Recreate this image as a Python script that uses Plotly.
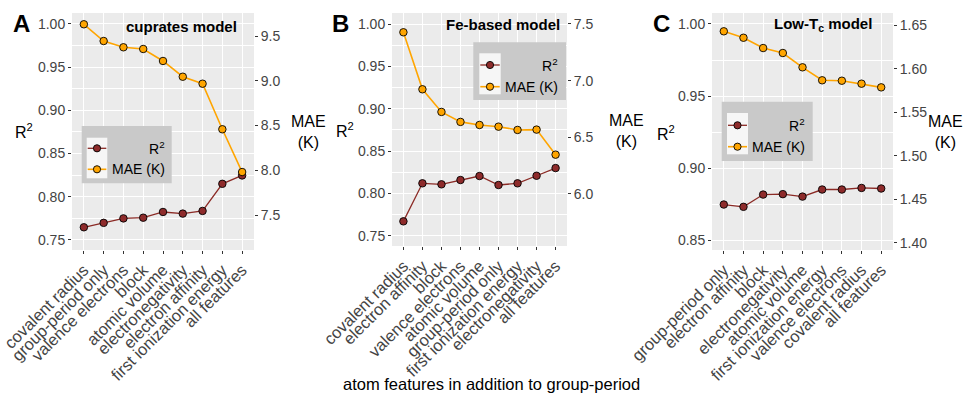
import plotly.graph_objects as go

# ---------------- data ----------------
cats_a = ["covalent radius", "group-period only", "valence electrons", "block",
          "atomic volume", "electronegativity", "electron affinity",
          "first ionization energy", "all features"]
r2_a = [0.7647, 0.7698, 0.7750, 0.7758, 0.7824, 0.7805, 0.7836, 0.8150, 0.8247]
mae_a = [9.631, 9.444, 9.374, 9.355, 9.221, 9.045, 8.967, 8.458, 7.980]

cats_b = ["covalent radius", "electron affinity", "block", "valence electrons",
          "atomic volume", "group-period only", "first ionization energy",
          "electronegativity", "all features"]
r2_b = [0.7671, 0.8120, 0.8108, 0.8159, 0.8206, 0.8100, 0.8120, 0.8209, 0.8300]
mae_b = [7.427, 6.924, 6.724, 6.636, 6.609, 6.594, 6.565, 6.568, 6.347]

cats_c = ["group-period only", "electron affinity", "block", "electronegativity",
          "atomic volume", "first ionization energy", "valence electrons",
          "covalent radius", "all features"]
r2_c = [0.8749, 0.8733, 0.8818, 0.8821, 0.8804, 0.8853, 0.8853, 0.8864, 0.8860]
mae_c = [1.6428, 1.6354, 1.6236, 1.6179, 1.6015, 1.5866, 1.5861, 1.5827, 1.5785]

titles = ["cuprates model", "Fe-based model", "Low-T<sub>c</sub> model"]
panel_letters = ["A", "B", "C"]
r2_ticks = [[0.75, 0.80, 0.85, 0.90, 0.95, 1.00],
            [0.75, 0.80, 0.85, 0.90, 0.95, 1.00],
            [0.85, 0.90, 0.95, 1.00]]
mae_ticks = [[7.5, 8.0, 8.5, 9.0, 9.5],
             [6.0, 6.5, 7.0, 7.5],
             [1.40, 1.45, 1.50, 1.55, 1.60, 1.65]]
x_title = "atom features in addition to group-period"

# ---------------- layout helpers ----------------
W, H = 964, 395
FONT = "Liberation Sans, Arial, sans-serif"


def px(x):
    return x / W


def py(y):
    return 1 - y / H


# panel geometry in pixels: (left, right, top, bottom)
panels = [(72, 254, 13, 250), (392, 567, 13, 246), (712, 893, 13, 250)]
r2_ranges = [[0.7384, 1.0127], [0.7380, 1.0130], [0.8434, 1.0076]]
mae_ranges = [[7.109, 9.757], [5.541, 7.597], [1.3919, 1.6638]]
r2_fmt = [".2f", ".2f", ".2f"]
mae_fmt = [".1f", ".1f", ".2f"]

R2_COL = "#8B2A25"
R2_FILL = "#8E2B2B"
MAE_COL = "#FFA500"
TICK_COL = "#333333"
LAB_COL = "#444444"

fig = go.Figure()
layout = dict(
    width=W, height=H, margin=dict(l=0, r=0, t=0, b=0),
    paper_bgcolor="white", plot_bgcolor="#EBEBEB",
    showlegend=False, font=dict(family=FONT, color="black"),
)

cats_all = [cats_a, cats_b, cats_c]
r2_all = [r2_a, r2_b, r2_c]
mae_all = [mae_a, mae_b, mae_c]

for i in range(3):
    L, R, T, B = panels[i]
    xa = "x" if i == 0 else f"x{i + 1}"
    yl = f"y{2 * i + 1}" if i > 0 else "y"
    yr = f"y{2 * i + 2}"
    xkey = "xaxis" if i == 0 else f"xaxis{i + 1}"
    ylkey = "yaxis" if i == 0 else f"yaxis{2 * i + 1}"
    yrkey = f"yaxis{2 * i + 2}"

    fig.add_trace(go.Scatter(
        x=cats_all[i], y=r2_all[i], xaxis=xa, yaxis=yl, mode="lines+markers",
        name="R²", line=dict(color=R2_COL, width=1.3),
        marker=dict(size=7.5, color=R2_FILL, line=dict(color="black", width=0.9)),
        cliponaxis=False))
    fig.add_trace(go.Scatter(
        x=cats_all[i], y=mae_all[i], xaxis=xa, yaxis=yr, mode="lines+markers",
        name="MAE (K)", line=dict(color=MAE_COL, width=1.6),
        marker=dict(size=7.5, color=MAE_COL, line=dict(color="black", width=0.9)),
        cliponaxis=False))

    layout[xkey] = dict(
        domain=[px(L), px(R)], anchor=yl, type="category",
        categoryorder="array", categoryarray=cats_all[i],
        range=[-0.6, 8.6], tickangle=-45,
        tickmode="linear", tick0=0, dtick=1,
        tickfont=dict(size=16.5, color=LAB_COL, family=FONT),
        ticks="outside", ticklen=3, tickwidth=1, tickcolor=TICK_COL,
        showgrid=True, gridcolor="white", gridwidth=1.1,
        zeroline=False, showline=False, automargin=False, fixedrange=True)
    layout[ylkey] = dict(
        domain=[py(B), py(T)], anchor=xa, range=r2_ranges[i],
        tickmode="array", tickvals=r2_ticks[i], tickformat=r2_fmt[i],
        tickfont=dict(size=14, color=LAB_COL, family=FONT),
        ticks="outside", ticklen=3, tickwidth=1, tickcolor=TICK_COL,
        showgrid=True, gridcolor="white", gridwidth=1.1,
        minor=dict(dtick=0.025, tick0=0, showgrid=True, gridcolor="white",
                   gridwidth=0.5, ticks=""),
        zeroline=False, showline=False, automargin=False, fixedrange=True)
    layout[yrkey] = dict(
        domain=[py(B), py(T)], anchor=xa, overlaying=yl, side="right",
        range=mae_ranges[i],
        tickmode="array", tickvals=mae_ticks[i], tickformat=mae_fmt[i],
        tickfont=dict(size=14, color=LAB_COL, family=FONT),
        ticks="outside", ticklen=3, tickwidth=1, tickcolor=TICK_COL,
        showgrid=False, zeroline=False, showline=False,
        automargin=False, fixedrange=True)

fig.update_layout(**layout)

annotations = []
shapes = []

# panel letters, in-panel titles, axis titles
letter_pos = [(21.5, 23.5), (340, 24), (661.5, 24)]
title_pos = [(181.5, 26), (502.5, 24.5), (823, 24.5)]
r2_title_pos = [(24, 131), (345, 130), (666, 133)]
mae_title_pos = [(308, 132), (626, 131), (945, 132)]
for i in range(3):
    lx, ly = letter_pos[i]
    annotations.append(dict(x=px(lx), y=py(ly), xref="paper", yref="paper",
                            text=f"<b>{panel_letters[i]}</b>", showarrow=False,
                            font=dict(size=24, family=FONT, color="black"),
                            xanchor="center", yanchor="middle"))
    tx, ty = title_pos[i]
    annotations.append(dict(x=px(tx), y=py(ty), xref="paper", yref="paper",
                            text=f"<b>{titles[i]}</b>", showarrow=False,
                            font=dict(size=15, family=FONT, color="black"),
                            xanchor="center", yanchor="middle"))
    rx, ry = r2_title_pos[i]
    annotations.append(dict(x=px(rx), y=py(ry), xref="paper", yref="paper",
                            text="R<sup>2</sup>", showarrow=False,
                            font=dict(size=16, family=FONT, color="black"),
                            xanchor="center", yanchor="middle"))
    mx, my = mae_title_pos[i]
    annotations.append(dict(x=px(mx), y=py(my), xref="paper", yref="paper",
                            text="MAE<br>(K)", showarrow=False, align="center",
                            font=dict(size=16, family=FONT, color="black"),
                            xanchor="center", yanchor="middle"))

annotations.append(dict(x=px(492), y=py(383.5), xref="paper", yref="paper",
                        text=x_title, showarrow=False,
                        font=dict(size=16.5, family=FONT, color="black"),
                        xanchor="center", yanchor="middle"))

# manual ggplot-style legends: (box l, r, t, b), (key l, r, t, b), row ys, text right
legends = [
    ((81.7, 171.7, 126, 183.3), (86.7, 107.3, 137.7, 178.3), (148.3, 169.3), 167),
    ((473.3, 566, 42.3, 100), (479.3, 500.7, 53.3, 94.3), (65, 86.7), 559.5),
    ((721.7, 812.7, 101.7, 161), (727, 748, 113, 154.3), (125.3, 146.7), 807),
]
for (bl, br, bt, bb), (kl, kr, kt, kb), rows, tr in legends:
    shapes.append(dict(type="rect", xref="paper", yref="paper",
                       x0=px(bl), x1=px(br), y0=py(bb), y1=py(bt),
                       fillcolor="#C9C9C9", line=dict(width=0), layer="above"))
    shapes.append(dict(type="rect", xref="paper", yref="paper",
                       x0=px(kl), x1=px(kr), y0=py(kb), y1=py(kt),
                       fillcolor="#F6F6F6", line=dict(width=0), layer="above"))
    for ry, col, fill, lw in ((rows[0], R2_COL, R2_FILL, 1.3),
                              (rows[1], MAE_COL, MAE_COL, 1.6)):
        shapes.append(dict(type="line", xref="paper", yref="paper",
                           x0=px(kl + 1), x1=px(kr - 1), y0=py(ry), y1=py(ry),
                           line=dict(color=col, width=lw), layer="above"))
        cx = (kl + kr) / 2
        rr = 3.6
        shapes.append(dict(type="circle", xref="paper", yref="paper",
                           x0=px(cx - rr), x1=px(cx + rr),
                           y0=py(ry + rr), y1=py(ry - rr),
                           fillcolor=fill, line=dict(color="black", width=0.9),
                           layer="above"))
    annotations.append(dict(x=px(tr), y=py(rows[0]), xref="paper", yref="paper",
                            text="R<sup>2</sup>", showarrow=False,
                            font=dict(size=14, family=FONT, color="black"),
                            xanchor="right", yanchor="middle"))
    annotations.append(dict(x=px(tr), y=py(rows[1]), xref="paper", yref="paper",
                            text="MAE (K)", showarrow=False,
                            font=dict(size=14, family=FONT, color="black"),
                            xanchor="right", yanchor="middle"))

fig.update_layout(annotations=annotations, shapes=shapes)
fig.write_html("out.html")
